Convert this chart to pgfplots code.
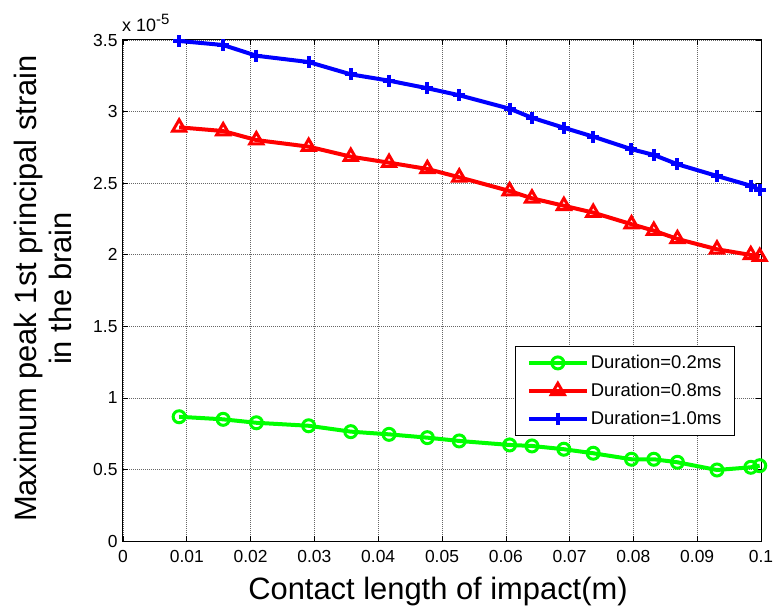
\documentclass[border=0pt]{standalone}
\usepackage{fontspec}
\setmainfont{Liberation Sans}
\usepackage{pgfplots}
\pgfplotsset{compat=1.18}
\definecolor{mgreen}{rgb}{0,1,0}
\definecolor{mred}{rgb}{1,0,0}
\definecolor{mblue}{rgb}{0,0,1}
\begin{document}
\begin{tikzpicture}
\useasboundingbox (-123bp,-72bp) rectangle (652bp,541bp);
\begin{axis}[
  scale only axis,
  width=638bp, height=501bp,
  xmin=0, xmax=0.1, ymin=0, ymax=3.5,
  clip=false,
  scaled ticks=false,
  /pgf/number format/assume math mode=true,
  xtick={0,0.01,0.02,0.03,0.04,0.05,0.06,0.07,0.08,0.09,0.1},
  xticklabels={0,0.01,0.02,0.03,0.04,0.05,0.06,0.07,0.08,0.09,0.1},
  ytick={0,0.5,1,1.5,2,2.5,3,3.5},
  yticklabels={0,0.5,1,1.5,2,2.5,3,3.5},
  tick align=inside,
  major tick length=5bp,
  tick style={black, line width=0.6bp},
  axis line style={black, line width=1bp},
  grid=major,
  grid style={black!60, line width=0.6bp, dash pattern=on 1bp off 1bp},
  ticklabel style={font=\fontsize{17.5}{20}\selectfont},
  xticklabel style={yshift=-6bp},
  yticklabel style={xshift=-2bp},
  xlabel={Contact length of impact(m)},
  xlabel style={at={(rel axis cs:0.5,0)}, anchor=base, yshift=-58bp, xshift=-4bp, font=\fontsize{31}{36}\selectfont},
  ylabel={Maximum peak 1st principal strain\\in the brain},
  ylabel style={at={(rel axis cs:0,0.5)}, anchor=north, yshift=109bp, xshift=2bp, inner sep=0pt, align=center, font=\fontsize{31}{35}\selectfont},
  legend image code/.code={
    \draw[mark repeat=2,mark phase=2] plot coordinates {(0bp,0bp) (29bp,0bp) (58bp,0bp)};
  },
  legend cell align=left,
  legend style={at={(0.959,0.389)}, anchor=north east, draw=black, line width=0.8bp,
    font=\fontsize{18.5}{21}\selectfont, row sep=9bp, inner xsep=11bp, inner ysep=7bp},
]
\addplot[mgreen, line width=4bp, mark=o, mark size=6bp, mark options={fill=white, line width=3bp}] coordinates {
(0.0088,0.868) (0.0157,0.850) (0.0209,0.826) (0.0291,0.805) (0.0357,0.764) (0.0417,0.745)
(0.0477,0.722) (0.0527,0.699) (0.0606,0.671) (0.0641,0.664) (0.0691,0.641) (0.0737,0.613)
(0.0797,0.571) (0.0832,0.571) (0.0869,0.550) (0.0931,0.496) (0.0984,0.515) (0.0998,0.526)
};
\addlegendentry{Duration=0.2ms}
\addplot[mred, line width=4bp, mark=triangle, mark size=7.5bp, mark options={fill=white, line width=3bp}] coordinates {
(0.0088,2.890) (0.0157,2.864) (0.0209,2.801) (0.0291,2.755) (0.0357,2.685) (0.0417,2.643)
(0.0477,2.599) (0.0527,2.541) (0.0606,2.445) (0.0641,2.394) (0.0691,2.342) (0.0737,2.294)
(0.0797,2.213) (0.0832,2.168) (0.0869,2.110) (0.0931,2.038) (0.0984,1.998) (0.0998,1.986)
};
\addlegendentry{Duration=0.8ms}
\addplot[mblue, line width=4bp, mark=+, mark size=6bp, mark options={line width=4bp}] coordinates {
(0.0088,3.493) (0.0157,3.465) (0.0209,3.390) (0.0291,3.346) (0.0357,3.260) (0.0417,3.216)
(0.0477,3.163) (0.0527,3.114) (0.0606,3.020) (0.0641,2.957) (0.0691,2.887) (0.0737,2.825)
(0.0797,2.737) (0.0832,2.697) (0.0869,2.632) (0.0931,2.550) (0.0984,2.482) (0.0998,2.452)
};
\addlegendentry{Duration=1.0ms}
\node[anchor=base west, inner sep=0pt, font=\fontsize{18}{20}\selectfont] at ([xshift=-1bp, yshift=8bp]rel axis cs:0,1) {x 10\raisebox{7bp}{\fontsize{15}{15}\selectfont -5}};
\end{axis}
\end{tikzpicture}
\end{document}
